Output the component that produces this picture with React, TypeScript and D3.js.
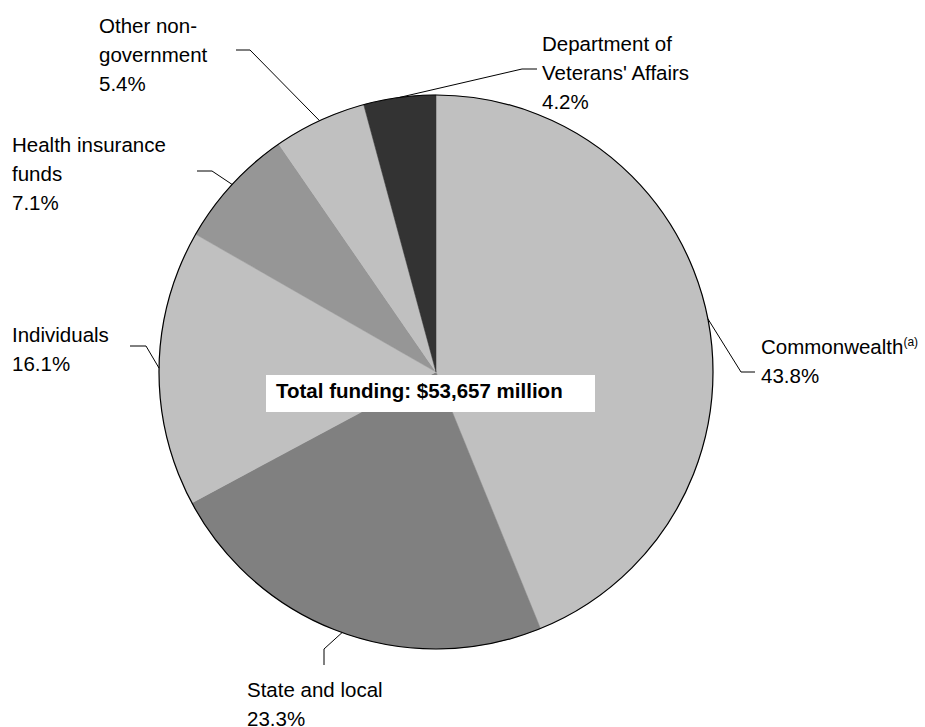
import React, { useRef, useEffect } from 'react';
import * as d3 from 'd3';

// Funding sources, clockwise from 12 o'clock
const categories = ['Commonwealth', 'State and local', 'Individuals', 'Health insurance funds', 'Other non-government', "Department of Veterans' Affairs"];
const shares = [43.8, 23.3, 16.1, 7.1, 5.4, 4.2];
const sliceColors = ['#c0c0c0', '#808080', '#c0c0c0', '#969696', '#c0c0c0', '#333333'];
const labelLines = [
    ['Commonwealth'],
    ['State and local'],
    ['Individuals'],
    ['Health insurance', 'funds'],
    ['Other non-', 'government'],
    ['Department of', "Veterans' Affairs"],
];
const totalLabel = 'Total funding: $53,657 million';

const App: React.FC = () => {
    const svgRef = useRef<SVGSVGElement | null>(null);

    useEffect(() => {
        document.body.style.margin = '0';
        const width = 925;
        const height = 727;
        const cx = 436;
        const cy = 372;
        const radius = 277;
        const fontSize = 20.5;
        const lineH = 29;

        const svg = d3.select(svgRef.current)
            .attr('width', width)
            .attr('height', height);
        svg.selectAll('*').remove();

        const g = svg.append('g').attr('transform', `translate(${cx},${cy})`);

        const pie = d3.pie<number>().sort(null).value(d => d);
        const arcs = pie(shares);
        const arc = d3.arc<d3.PieArcDatum<number>>().innerRadius(0).outerRadius(radius);
        const edgeArc = d3.arc<d3.PieArcDatum<number>>().innerRadius(radius).outerRadius(radius);

        g.selectAll('path.slice')
            .data(arcs)
            .enter()
            .append('path')
            .attr('class', 'slice')
            .attr('d', arc)
            .attr('fill', (d, i) => sliceColors[i])
            .attr('stroke', (d, i) => sliceColors[i])
            .attr('stroke-width', 0.5);

        // outline only round the outside
        g.append('circle')
            .attr('r', radius)
            .attr('fill', 'none')
            .attr('stroke', '#000')
            .attr('stroke-width', 1.2);

        // label layout: elbow point, line end, text x, first baseline
        const layout = [
            { elbow: [741, 372], end: [755, 372], tx: 761, ty: 354 },
            { elbow: [324, 649], end: [324, 665], tx: 247, ty: 697 },
            { elbow: [146, 346], end: [130, 346], tx: 12, ty: 342 },
            { elbow: [212, 171], end: [197, 171], tx: 12, ty: 152 },
            { elbow: [250, 50], end: [236, 50], tx: 99, ty: 33 },
            { elbow: [522, 69], end: [537, 69], tx: 542, ty: 51 },
        ];

        arcs.forEach((a, i) => {
            const [ex, ey] = edgeArc.centroid(a);
            const L = layout[i];
            svg.append('polyline')
                .attr('points', `${cx + ex},${cy + ey} ${L.elbow[0]},${L.elbow[1]} ${L.end[0]},${L.end[1]}`)
                .attr('fill', 'none')
                .attr('stroke', '#000')
                .attr('stroke-width', 1);

            const lines = labelLines[i];
            const text = svg.append('text')
                .attr('font-family', '"Liberation Sans", Arial, sans-serif')
                .attr('font-size', fontSize)
                .attr('fill', '#000');
            lines.forEach((ln, k) => {
                text.append('tspan')
                    .attr('x', L.tx)
                    .attr('y', L.ty + k * lineH)
                    .text(ln);
                if (i === 0 && k === 0) {
                    text.append('tspan')
                        .attr('dy', -8)
                        .attr('font-size', 12)
                        .text('(a)');
                }
            });
            text.append('tspan')
                .attr('x', L.tx)
                .attr('y', L.ty + lines.length * lineH)
                .text(`${shares[i].toFixed(1)}%`);
        });

        // total funding box
        svg.append('rect')
            .attr('x', 266)
            .attr('y', 375)
            .attr('width', 329)
            .attr('height', 37)
            .attr('fill', '#fff');
        svg.append('text')
            .attr('x', 276)
            .attr('y', 398)
            .attr('font-family', '"Liberation Sans", Arial, sans-serif')
            .attr('font-size', 20.5)
            .attr('font-weight', 'bold')
            .attr('fill', '#000')
            .text(totalLabel);
    }, []);

    return <svg ref={svgRef} style={{ display: 'block' }}></svg>;
};

export default App;
